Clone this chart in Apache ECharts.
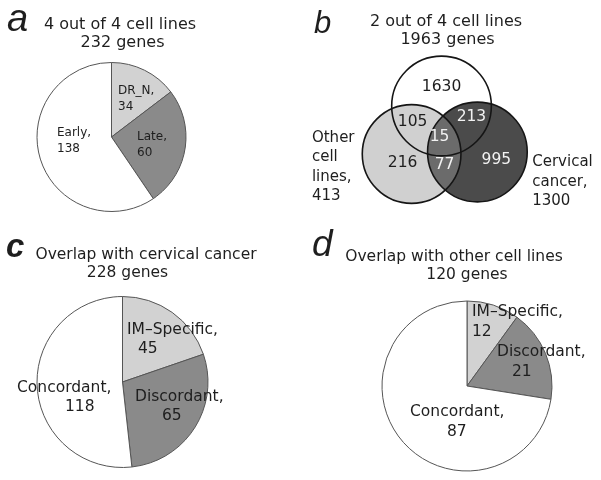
<!DOCTYPE html>
<html>
<head>
<meta charset="utf-8">
<script src="https://cdn.jsdelivr.net/npm/echarts@6/dist/echarts.min.js"></script>
<style>
html,body{margin:0;padding:0;background:#fff}
#main{width:601px;height:480px}
</style>
</head>
<body>
<div id="main"></div>
<script>
// a - 4 out of 4 cell lines
var aNames = ['DR_N', 'Late', 'Early'];
var aValues = [34, 60, 138];
// b - venn, 2 out of 4 cell lines
var vennSets = ['2 out of 4 cell lines', 'Other cell lines', 'Cervical cancer'];
var vennRegionSets = [[0], [0, 1], [0, 2], [0, 1, 2], [1], [1, 2], [2]];
var vennCounts = [1630, 105, 213, 15, 216, 77, 995];
// c - overlap with cervical cancer
var cNames = ['IM–Specific', 'Discordant', 'Concordant'];
var cValues = [45, 65, 118];
// d - overlap with other cell lines
var dNames = ['IM–Specific', 'Discordant', 'Concordant'];
var dValues = [12, 21, 87];

var font = '"DejaVu Sans", "Open Sans", sans-serif';
var sliceColors = ['#d2d2d2', '#8a8a8a', '#ffffff'];

function sum(arr){ var s = 0; for (var i = 0; i < arr.length; i++) s += arr[i]; return s; }
function setTotal(k){
  var s = 0;
  for (var i = 0; i < vennCounts.length; i++) if (vennRegionSets[i].indexOf(k) >= 0) s += vennCounts[i];
  return s;
}

// venn layout in axis units (1 unit = circle radius)
var vennCircles = [[0, 0, 1], [-0.6, -0.96, 0.99], [0.72, -0.92, 1]];
var vennFill = ['#ffffff', 'rgba(147,147,147,0.44)', '#4b4b4b'];
var vennZ = [0, 2, 1];
var vennLabelPos = [[0, 0.38], [-0.58, -0.32], [0.6, -0.22], [-0.04, -0.62], [-0.78, -1.14], [0.06, -1.18], [1.1, -1.08]];
var vennSetLabelPos = [null, [-2.6, -1.22], [1.82, -1.52]];

// pie label layout: [left x, middle y, indent of value line]
var aLab = [[118, 98.5, 0], [137, 145, 0], [57, 140.5, 0]];
var cLab = [[127, 339, 11], [135, 406, 27], [17, 397.5, 48]];
var dLab = [[472, 322, 0], [497, 362, 15], [410, 422, 37]];

function pieSeries(names, values, center, r, lab, fs, lh){
  var rich = { n: { fontFamily: font, fontSize: fs, lineHeight: lh, color: '#1e1e1e' } };
  for (var i = 0; i < lab.length; i++) {
    rich['v' + i] = { fontFamily: font, fontSize: fs, lineHeight: lh, color: '#1e1e1e', padding: [0, 0, 0, lab[i][2]] };
  }
  return {
    type: 'pie', center: center, radius: r, startAngle: 90, clockwise: true,
    silent: true, avoidLabelOverlap: false,
    itemStyle: { borderColor: '#555', borderWidth: 1 },
    label: {
      show: true, position: 'inside', rich: rich,
      formatter: function(p){ return '{n|' + p.name + ',}\n{v' + p.dataIndex + '|' + p.value + '}'; }
    },
    labelLine: { show: false },
    labelLayout: function(p){
      var L = lab[p.dataIndex];
      return { x: L[0], y: L[1], align: 'left', verticalAlign: 'middle' };
    },
    data: names.map(function(n, i){ return { name: n, value: values[i], itemStyle: { color: sliceColors[i] } }; })
  };
}

function txt(text, x, y, size, extra){
  var st = { text: text, x: x, y: y, fontFamily: font, fontSize: size, fill: '#1e1e1e', align: 'center', verticalAlign: 'middle' };
  for (var k in extra) st[k] = extra[k];
  return { type: 'text', style: st, silent: true };
}
var letterFont = '"Liberation Sans", Arial, sans-serif';

var myChart = echarts.init(document.getElementById('main'));
myChart.setOption({
  animation: false,
  grid: { left: 292, top: 56, width: 310, height: 150 },
  xAxis: { type: 'value', min: -3, max: 3.2, show: false },
  yAxis: { type: 'value', min: -2, max: 1, show: false },
  graphic: [
    txt('a', 7, 20, 38, { align: 'left', fontFamily: letterFont, fontStyle: 'italic' }),
    txt('b', 314, 24, 31, { align: 'left', fontFamily: letterFont, fontStyle: 'italic' }),
    txt('c', 6, 248, 33, { align: 'left', fontFamily: letterFont, fontStyle: 'italic', fontWeight: 'bold' }),
    txt('d', 312, 246, 37, { align: 'left', fontFamily: letterFont, fontStyle: 'italic' }),
    txt('4 out of 4 cell lines', 120, 25, 16),
    txt(sum(aValues) + ' genes', 122.5, 43, 16),
    txt(vennSets[0], 446, 22, 16),
    txt(setTotal(0) + ' genes', 447.5, 40, 16),
    txt('Overlap with cervical cancer', 146, 255, 15.5),
    txt(sum(cValues) + ' genes', 127.5, 273, 15.5),
    txt('Overlap with other cell lines', 454, 257, 15.5),
    txt(sum(dValues) + ' genes', 467, 275, 15.5)
  ],
  series: [
    pieSeries(aNames, aValues, [111.5, 137], 74.5, aLab, 12, 16),
    pieSeries(cNames, cValues, [122.5, 382], 85.5, cLab, 15.5, 19),
    pieSeries(dNames, dValues, [467, 386], 85, dLab, 15.5, 20),
    {
      // venn fills
      type: 'custom', silent: true, clip: false,
      renderItem: function(params, api){
        var c = api.coord([api.value(0), api.value(1)]);
        var r = api.size([api.value(2), api.value(2)])[0];
        return { type: 'circle', z2: vennZ[params.dataIndex], shape: { cx: c[0], cy: c[1], r: r }, style: { fill: vennFill[params.dataIndex] } };
      },
      data: vennCircles
    },
    {
      // venn outlines
      type: 'custom', silent: true, clip: false, z: 3,
      renderItem: function(params, api){
        var c = api.coord([api.value(0), api.value(1)]);
        var r = api.size([api.value(2), api.value(2)])[0];
        return { type: 'circle', shape: { cx: c[0], cy: c[1], r: r }, style: { fill: 'none', stroke: '#151515', lineWidth: 1.6 } };
      },
      data: vennCircles
    },
    {
      // venn region counts
      type: 'custom', silent: true, clip: false, z: 4,
      renderItem: function(params, api){
        var c = api.coord([api.value(0), api.value(1)]);
        var i = params.dataIndex;
        var light = vennRegionSets[i].indexOf(2) >= 0;
        return { type: 'text', style: { text: String(vennCounts[i]), x: c[0], y: c[1], fontFamily: font, fontSize: 15.5,
          fill: light ? '#f2f2f2' : '#1e1e1e', align: 'center', verticalAlign: 'middle' } };
      },
      data: vennLabelPos
    },
    {
      // venn set labels
      type: 'custom', silent: true, clip: false, z: 4,
      renderItem: function(params, api){
        var c = api.coord([api.value(0), api.value(1)]);
        var k = params.dataIndex + 1;
        return { type: 'text', style: { text: vennSets[k].split(' ').join('\n') + ',\n' + setTotal(k), x: c[0], y: c[1],
          fontFamily: font, fontSize: 15, lineHeight: 19.5, fill: '#1e1e1e', align: 'left', verticalAlign: 'middle' } };
      },
      data: vennSetLabelPos.slice(1)
    }
  ]
});
</script>
</body>
</html>
